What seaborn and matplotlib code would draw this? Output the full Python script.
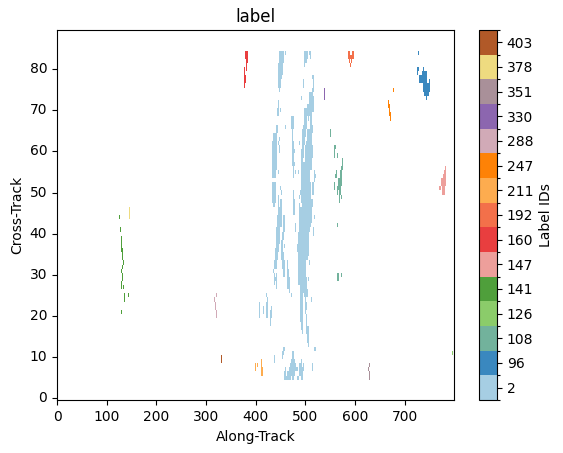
import numpy as np
import matplotlib
matplotlib.use("Agg")
import matplotlib.pyplot as plt
from matplotlib.colors import ListedColormap
from matplotlib.ticker import FixedLocator
import seaborn as sns

### label ids shown on the colorbar
label_ids = [2, 96, 108, 126, 141, 147, 160, 192, 211, 247, 288, 330, 351, 378, 403]
label_colors = ["#a6cee3", "#3a88bf", "#72b29c", "#8bcc6a", "#4f9f3b", "#ed9f9b", "#e93e3f", "#f3704a",
                "#fdac4f", "#fe8206", "#d1aab7", "#8c66af", "#a99099", "#eedb80", "#b15928"]

### blobs: along-track start, stop, cross-track start, stop
blobs_2 = [
    (446, 456, 82, 85), (458, 460, 84, 85), (444, 454, 79, 82), (444, 450, 76, 79), (450, 452, 78, 79),
    (446, 448, 75, 76), (444, 446, 71, 73), (442, 446, 69, 71), (448, 450, 70, 71), (440, 444, 65, 67),
    (458, 460, 66, 67), (434, 442, 63, 65), (446, 448, 63, 64), (432, 442, 56, 63), (444, 446, 62, 63),
    (446, 448, 60, 62), (432, 440, 54, 56), (444, 446, 55, 56), (432, 440, 48, 53), (434, 438, 47, 48),
    (448, 450, 51, 52), (450, 452, 50, 51), (444, 446, 46, 50), (448, 452, 46, 49), (444, 452, 45, 47),
    (442, 452, 42, 45), (454, 458, 41, 45), (440, 448, 38, 42), (452, 456, 39, 41), (440, 446, 37, 38),
    (450, 454, 36, 39), (456, 458, 37, 38), (438, 446, 36, 37), (438, 444, 34, 36), (450, 456, 34, 36),
    (436, 442, 32, 34), (452, 458, 32, 34), (462, 464, 32, 34), (434, 436, 31, 32), (454, 458, 30, 32),
    (462, 466, 30, 32), (436, 438, 28, 31), (440, 442, 27, 31), (438, 440, 29, 30), (462, 468, 27, 30),
    (466, 468, 26, 27), (470, 472, 25, 26), (421, 423, 25, 26), (423, 425, 24, 25), (421, 425, 20, 24),
    (407, 409, 20, 24), (415, 417, 21, 23), (431, 433, 22, 23), (429, 433, 20, 22), (429, 431, 18, 20),
    (496, 504, 83, 85), (506, 510, 84, 85), (508, 510, 83, 84), (496, 502, 82, 83), (496, 498, 81, 82),
    (512, 516, 78, 79), (514, 516, 76, 78), (494, 496, 76, 78), (512, 516, 75, 76), (506, 514, 74, 75),
    (506, 516, 72, 74), (490, 492, 73, 74), (502, 516, 71, 72), (496, 516, 70, 71), (496, 512, 69, 70),
    (496, 502, 67, 69), (504, 506, 68, 69), (508, 512, 67, 69), (470, 476, 66, 69), (494, 502, 66, 67),
    (508, 514, 65, 67), (492, 500, 64, 66), (502, 512, 63, 66), (472, 474, 58, 66), (492, 498, 62, 64),
    (500, 512, 62, 63), (472, 476, 61, 63), (486, 488, 62, 63), (492, 496, 61, 62), (498, 514, 59, 62),
    (490, 496, 59, 61), (472, 478, 60, 61), (472, 476, 58, 60), (490, 494, 58, 59), (498, 512, 58, 59),
    (490, 496, 57, 58), (472, 478, 57, 58), (474, 476, 54, 57), (490, 512, 56, 58), (490, 508, 53, 56),
    (516, 518, 53, 56), (518, 520, 54, 55), (478, 480, 55, 56), (484, 486, 55, 56), (490, 510, 51, 53),
    (512, 516, 50, 53), (488, 510, 50, 51), (490, 510, 48, 50), (486, 488, 49, 50), (474, 476, 46, 51),
    (492, 514, 47, 48), (490, 514, 48, 49), (486, 488, 46, 48), (476, 478, 45, 49), (474, 478, 45, 46),
    (486, 512, 43, 47), (516, 518, 44, 45), (486, 510, 42, 43), (478, 480, 41, 43), (486, 508, 41, 42),
    (484, 506, 38, 41), (514, 516, 40, 42), (482, 506, 36, 38), (484, 506, 35, 36), (484, 504, 34, 35),
    (484, 500, 28, 34), (506, 508, 33, 34), (500, 502, 28, 30), (504, 506, 29, 30), (488, 502, 27, 28),
    (488, 504, 26, 27), (488, 494, 25, 26), (496, 504, 25, 26), (488, 494, 19, 25), (498, 500, 24, 25),
    (498, 502, 22, 24), (510, 512, 24, 25), (498, 500, 21, 22), (500, 502, 18, 21), (490, 494, 17, 19),
    (492, 494, 16, 17), (500, 506, 16, 18), (502, 506, 14, 16), (504, 506, 13, 14), (454, 458, 12, 13),
    (452, 456, 11, 12), (452, 454, 10, 11), (436, 438, 9, 11), (472, 476, 10, 12), (470, 478, 9, 10),
    (490, 492, 9, 10), (516, 520, 12, 13), (468, 480, 8, 9), (486, 492, 8, 9), (494, 496, 8, 9),
    (512, 514, 7, 9), (466, 484, 7, 8), (486, 496, 7, 8), (458, 460, 7, 8), (462, 478, 6, 7),
    (456, 460, 6, 7), (486, 494, 6, 7), (456, 470, 5, 6), (472, 476, 5, 6), (482, 486, 5, 6), (490, 494, 5, 6),
]
blobs_96 = [
    (727, 729, 84, 85), (725, 729, 80, 81), (725, 727, 79, 80), (737, 739, 80, 81), (735, 745, 79, 80),
    (729, 745, 77, 79), (749, 751, 77, 78), (737, 751, 75, 77), (739, 749, 74, 75), (743, 745, 73, 74),
]
blobs_108 = [
    (550, 552, 64, 66), (558, 562, 61, 62), (558, 560, 59, 61), (564, 566, 59, 60), (574, 576, 57, 59),
    (572, 576, 56, 57), (562, 564, 55, 56), (570, 574, 54, 56), (560, 564, 54, 55), (566, 574, 52, 54),
    (558, 560, 51, 53), (564, 572, 51, 52), (564, 566, 50, 51), (568, 572, 50, 51), (568, 570, 48, 50),
    (572, 574, 49, 50), (564, 566, 42, 43), (564, 568, 29, 31), (572, 574, 30, 31),
]
blobs_126 = [(794, 796, 11, 12)]
blobs_141 = [
    (124, 126, 44, 45), (126, 128, 41, 42), (128, 130, 36, 40), (130, 132, 34, 37), (132, 134, 33, 34),
    (130, 132, 32, 33), (128, 130, 31, 32), (130, 132, 29, 31), (128, 130, 27, 29), (132, 134, 27, 28),
    (134, 136, 24, 26), (142, 144, 25, 26), (128, 130, 21, 22),
]
blobs_147 = [
    (780, 782, 56, 57), (778, 782, 55, 56), (776, 782, 54, 55), (772, 782, 52, 54), (768, 772, 51, 52),
    (774, 780, 50, 52),
]
blobs_160 = [
    (377, 383, 83, 85), (379, 383, 82, 83), (379, 381, 80, 82), (375, 377, 79, 81), (375, 379, 77, 79),
    (375, 377, 76, 77),
]
blobs_192 = [
    (586, 590, 84, 85), (594, 598, 84, 85), (586, 598, 83, 84), (588, 590, 82, 83), (592, 594, 82, 83),
    (590, 592, 81, 82),
]
blobs_211 = [(397, 401, 7, 9), (403, 405, 8, 9), (411, 413, 8, 10), (411, 415, 6, 8)]
blobs_247 = [
    (665, 669, 72, 73), (667, 671, 71, 72), (669, 671, 70, 71), (669, 673, 69, 70), (671, 673, 68, 69),
    (677, 679, 75, 76),
]
blobs_288 = [(319, 321, 25, 26), (315, 317, 24, 25), (317, 319, 22, 24), (319, 321, 20, 22)]
blobs_330 = [(538, 540, 73, 76)]
blobs_351 = [(627, 629, 8, 9), (625, 627, 7, 8), (627, 629, 5, 7)]
blobs_378 = [(144, 146, 44, 47)]
blobs_403 = [(329, 331, 9, 11)]

all_blobs = [blobs_2, blobs_96, blobs_108, blobs_126, blobs_141, blobs_147, blobs_160, blobs_192,
             blobs_211, blobs_247, blobs_288, blobs_330, blobs_351, blobs_378, blobs_403]

### label image, NaN where nothing was labelled
grid = np.full((90, 800), np.nan)
for idx, blobs in enumerate(all_blobs):
    for x0, x1, y0, y1 in blobs:
        grid[y0:y1, x0 + 1:x1 + 1] = idx

fig = plt.figure(figsize=(5.63, 4.53), dpi=100)
ax = fig.add_axes([57 / 563, 1 - 400.3 / 453, 397 / 563, 370.3 / 453])
cax = fig.add_axes([479 / 563, 1 - 400 / 453, 18 / 563, 370 / 453])

cmap = ListedColormap(label_colors)
sns.heatmap(grid, ax=ax, cbar_ax=cax, cmap=cmap, vmin=-0.5, vmax=14.5,
            cbar_kws={"label": "Label IDs", "ticks": list(range(15))})

ax.invert_yaxis()
for side in ax.spines.values():
    side.set_visible(True)
    side.set_linewidth(0.8)

xvals = np.arange(0, 800, 100)
yvals = np.arange(0, 90, 10)
ax.set_xticks(xvals + 0.5)
ax.set_xticklabels(xvals, rotation=0)
ax.set_yticks(yvals + 0.5)
ax.set_yticklabels(yvals, rotation=0)
ax.set_xlabel("Along-Track")
ax.set_ylabel("Cross-Track")
ax.set_title("label")

cbar = ax.collections[0].colorbar
cbar.set_ticklabels(label_ids)
cbar.ax.yaxis.set_minor_locator(FixedLocator(np.arange(-0.5, 15, 1)))
cbar.ax.tick_params(which="minor", length=2, width=0.8)
cbar.outline.set_visible(True)
cbar.outline.set_linewidth(0.8)
cbar.outline.set_edgecolor("black")

plt.savefig("out.png", dpi=100)
